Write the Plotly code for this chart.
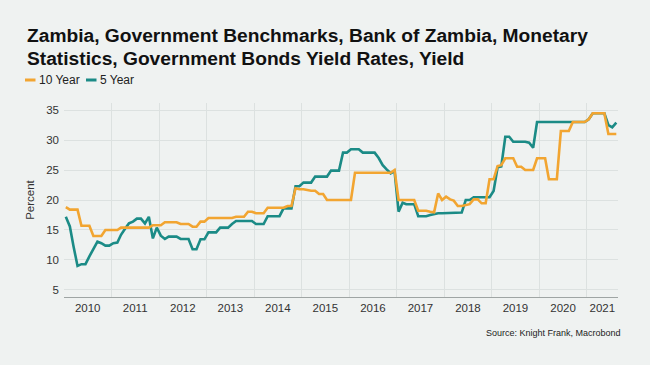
import pandas as pd
import plotly.graph_objects as go

# ---- data (monthly, Jan 2010 - Aug 2021) ----
start_month = "2010-01-01"
n_months = 140

yield_10y = [
    18.8, 18.4, 18.4, 18.4, 15.7, 15.7, 15.7, 14.0, 14.0, 14.0, 15.0, 15.0,   # 2010
    15.0, 15.0, 15.4, 15.4, 15.4, 15.4, 15.4, 15.4, 15.4, 15.4, 15.8, 15.8,   # 2011
    15.8, 16.3, 16.3, 16.3, 16.3, 16.0, 16.0, 16.0, 15.55, 15.55, 16.4, 16.4, # 2012
    17.0, 17.0, 17.0, 17.0, 17.0, 17.0, 17.0, 17.2, 17.2, 17.2, 18.05, 18.05, # 2013
    17.8, 17.8, 17.8, 18.7, 18.7, 18.7, 18.7, 18.7, 19.0, 19.0, 21.95, 21.8,  # 2014
    21.8, 21.67, 21.55, 21.55, 21.0, 21.0, 20.0, 20.0, 20.0, 20.0, 20.0, 20.0, # 2015
    20.0, 24.55, 24.55, 24.55, 24.55, 24.55, 24.55, 24.55, 24.55, 24.55, 24.55, 25.0,  # 2016
    20.0, 20.0, 20.0, 20.0, 20.0, 18.2, 18.2, 18.2, 18.05, 17.95, 21.1, 20.0, # 2017
    20.55, 20.1, 19.9, 19.0, 19.0, 19.2, 19.3, 20.1, 20.1, 19.45, 19.45, 23.45,  # 2018
    23.45, 25.67, 25.8, 26.95, 26.95, 26.95, 25.55, 25.55, 25.0, 25.0, 25.0, 26.95,  # 2019
    26.95, 26.95, 23.45, 23.45, 23.45, 31.5, 31.5, 31.5, 33.0, 33.0, 33.0, 33.0,  # 2020
    33.45, 34.45, 34.45, 34.45, 34.45, 31.0, 31.0, 31.0,                      # 2021
]

yield_5y = [
    17.2, 15.6, 12.3, 9.0, 9.3, 9.3, 10.6, 11.95, 13.05, 12.8, 12.4, 12.4,    # 2010
    12.8, 12.9, 14.2, 15.2, 16.1, 16.4, 16.9, 16.9, 16.1, 17.2, 13.6, 15.4,   # 2011
    14.05, 13.5, 13.9, 13.9, 13.9, 13.5, 13.5, 13.5, 11.8, 11.8, 13.45, 13.45, # 2012
    14.6, 14.6, 14.6, 15.4, 15.4, 15.4, 16.0, 16.5, 16.5, 16.5, 16.5, 16.5,   # 2013
    16.0, 16.0, 16.0, 17.3, 17.3, 17.3, 17.3, 18.6, 18.6, 18.6, 22.3, 22.3,   # 2014
    22.9, 22.9, 22.9, 23.9, 23.9, 23.9, 23.9, 24.9, 24.9, 24.9, 27.9, 27.9,   # 2015
    28.45, 28.45, 28.45, 27.9, 27.9, 27.9, 27.9, 27.0, 25.8, 25.1, 24.45, 24.8,  # 2016
    18.05, 19.55, 19.3, 19.3, 19.3, 17.3, 17.3, 17.3, 17.5, 17.65, 17.8, 17.8,  # 2017
    17.8, 17.8, 17.8, 17.9, 17.9, 20.0, 20.0, 20.45, 20.45, 20.45, 20.45, 20.45,  # 2018
    21.5, 25.45, 25.6, 30.55, 30.55, 29.7, 29.7, 29.7, 29.7, 29.55, 28.7, 33.0,  # 2019
    33.0, 33.0, 33.0, 33.0, 33.0, 33.0, 33.0, 33.0, 33.0, 33.0, 33.0, 33.0,   # 2020
    33.45, 34.45, 34.45, 34.45, 34.45, 32.5, 32.1, 32.9,                      # 2021
]

dates = pd.date_range(start_month, periods=n_months, freq="MS") + pd.Timedelta(days=14)

series_names = ["10 Year", "5 Year"]
year_labels = [str(y) for y in range(2010, 2022)]
label_positions = [f"{y}-07-02" for y in range(2010, 2021)] + ["2021-04-30"]
y_ticks = [5, 10, 15, 20, 25, 30, 35]

title_line1 = "Zambia, Government Benchmarks, Bank of Zambia, Monetary"
title_line2 = "Statistics, Government Bonds Yield Rates, Yield"
source_text = "Source: Knight Frank, Macrobond"

# ---- styling ----
ORANGE = "#F2A531"
TEAL = "#1B8B86"
BG = "#EFF2F1"
GRID = "#DCE1E0"
FONT = "Liberation Sans, Arial, sans-serif"

W, H = 650, 365
ML, MR, MT, MB = 64, 32, 103, 68
PW, PH = W - ML - MR, H - MT - MB


def px_x(x):
    return (x - ML) / PW


def px_y(y):
    return (H - MB - y) / PH


fig = go.Figure()
fig.add_trace(go.Scatter(x=dates, y=yield_5y, mode="lines", name=series_names[1],
                         line=dict(color=TEAL, width=2.6), showlegend=False))
fig.add_trace(go.Scatter(x=dates, y=yield_10y, mode="lines", name=series_names[0],
                         line=dict(color=ORANGE, width=2.6), showlegend=False))

fig.update_layout(
    width=W, height=H,
    margin=dict(l=ML, r=MR, t=MT, b=MB),
    paper_bgcolor=BG, plot_bgcolor=BG,
    font=dict(family=FONT, color="#333333", size=11),
    showlegend=False,
)

fig.update_xaxes(
    type="date",
    range=["2010-01-01", "2021-08-28"],
    tickvals=label_positions, ticktext=year_labels,
    showgrid=False, ticks="",
    tickfont=dict(size=11.5, color="#333333"),
    showline=True, linecolor="#9FA5A4", linewidth=1,
    minor=dict(dtick="M12", tick0="2010-01-01", showgrid=True,
               gridcolor=GRID, gridwidth=1, ticks=""),
    zeroline=False,
)
fig.update_yaxes(
    range=[3.83, 36.17],
    tickvals=y_ticks,
    showgrid=True, gridcolor=GRID, gridwidth=1,
    ticks="", zeroline=False, showline=False,
    ticklabelstandoff=4,
    tickfont=dict(size=11.5, color="#333333"),
    title=dict(text="Percent", font=dict(size=11.5, color="#333333"), standoff=9),
)

annotations = [
    dict(text=f"<b>{title_line1}</b>", x=px_x(25), y=px_y(36), xref="paper", yref="paper",
         xanchor="left", yanchor="middle", showarrow=False,
         font=dict(size=19.2, color="#111111", family=FONT)),
    dict(text=f"<b>{title_line2}</b>", x=px_x(25), y=px_y(58.5), xref="paper", yref="paper",
         xanchor="left", yanchor="middle", showarrow=False,
         font=dict(size=19.2, color="#111111", family=FONT)),
    dict(text=series_names[0], x=px_x(37), y=px_y(80), xref="paper", yref="paper",
         xanchor="left", yanchor="middle", showarrow=False,
         font=dict(size=12, color="#222222", family=FONT)),
    dict(text=series_names[1], x=px_x(97.5), y=px_y(80), xref="paper", yref="paper",
         xanchor="left", yanchor="middle", showarrow=False,
         font=dict(size=12, color="#222222", family=FONT)),
    dict(text=source_text, x=px_x(623), y=px_y(333), xref="paper", yref="paper",
         xanchor="right", yanchor="middle", showarrow=False,
         font=dict(size=9, color="#222222", family=FONT)),
]
fig.update_layout(annotations=annotations)

shapes = [
    dict(type="line", xref="paper", yref="paper", x0=px_x(25), x1=px_x(35.5),
         y0=px_y(80), y1=px_y(80), line=dict(color=ORANGE, width=3)),
    dict(type="line", xref="paper", yref="paper", x0=px_x(86), x1=px_x(96.5),
         y0=px_y(80), y1=px_y(80), line=dict(color=TEAL, width=3)),
]
fig.update_layout(shapes=shapes)

fig.write_html(
    "out.html",
    config={"displayModeBar": False},
    post_script="document.body.style.margin='0';document.body.style.padding='0';"
                "document.body.style.background='" + BG + "';",
)
